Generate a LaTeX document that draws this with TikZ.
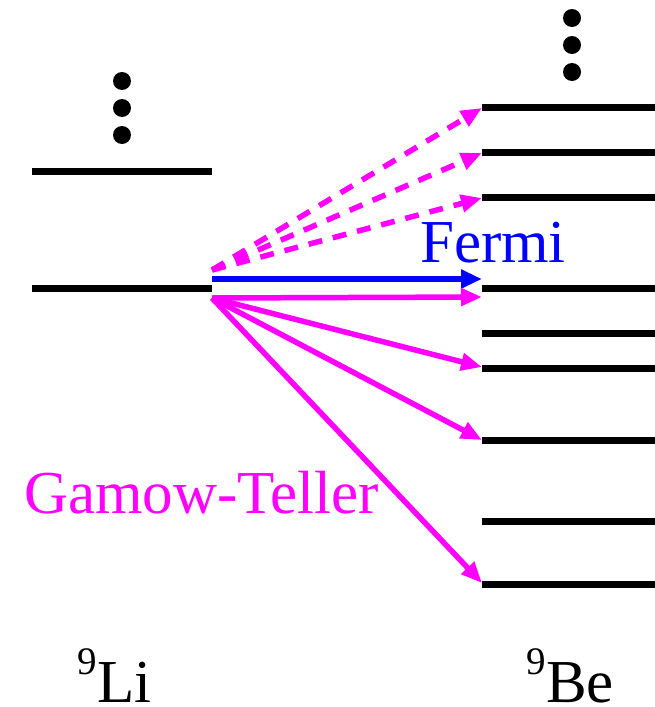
\documentclass[tikz,border=0pt]{standalone}
\usepackage{fontspec}
\setmainfont{Liberation Serif}
\usetikzlibrary{arrows.meta}
\definecolor{mag}{RGB}{255,0,255}
\definecolor{fblue}{RGB}{0,0,255}
\begin{document}
\begin{tikzpicture}[x=1pt,y=-1pt,
  level/.style={line width=7pt},
  dot/.style={fill=black,circle,inner sep=0pt,minimum size=18pt},
  trans/.style={line width=5.5pt,draw=mag,-{Triangle[length=21pt,width=17pt,fill=mag]}},
  dtrans/.style={trans,dash pattern=on 14pt off 11pt},
  ftrans/.style={line width=6pt,draw=fblue,-{Triangle[length=21pt,width=18pt,fill=fblue]}},
  big/.style={font=\fontsize{61}{61}\selectfont,inner sep=0pt},
  sup/.style={font=\fontsize{39}{39}\selectfont,inner sep=0pt}]
\useasboundingbox (0,0) rectangle (655,707);
% left levels (9Li)
\coordinate (L1a) at (32,288); \coordinate (L1b) at (212,288);
\coordinate (L2a) at (32,171); \coordinate (L2b) at (212,171);
\draw[level] (L1a) -- (L1b);
\draw[level] (L2a) -- (L2b);
\node[dot] (ld1) at (122,81) {};
\node[dot] (ld2) at (122,108) {};
\node[dot] (ld3) at (122,135) {};
% right levels (9Be)
\foreach \n/\y in {1/107,2/152,3/197,4/288,5/333,6/368,7/440,8/521,9/584}{
  \coordinate (R\n) at (482,\y);
  \draw[level] (R\n) -- (655,\y);
}
\node[dot] (rd1) at (572,18) {};
\node[dot] (rd2) at (572,45) {};
\node[dot] (rd3) at (572,72) {};
% transition origins and targets
\coordinate (oD) at (212,270);
\coordinate (oF) at (212,279);
\coordinate (oG) at (212,298);
\coordinate (tD1) at (482,108);
\coordinate (tD2) at (482,153);
\coordinate (tD3) at (482,198);
\coordinate (tF) at (482,279);
\coordinate (tG1) at (482,297);
\coordinate (tG2) at (482,367);
\coordinate (tG3) at (482,440);
\coordinate (tG4) at (482,583);
\draw[dtrans] (oD) -- (tD1);
\draw[dtrans] (oD) -- (tD2);
\draw[dtrans] (oD) -- (tD3);
\draw[ftrans] (oF) -- (tF);
\draw[trans] (oG) -- (tG1);
\draw[trans] (oG) -- (tG2);
\draw[trans] (oG) -- (tG3);
\draw[trans] (oG) -- (tG4);
% labels
\node[big,text=fblue,anchor=base west] (fermi) at (420,262) {Fermi};
\node[big,text=mag,anchor=base west] (gt) at (24,513) {Gamow-Teller};
\node[sup,anchor=base west,text depth=0pt] (li9) at (77,674) {9};
\node[big,anchor=base west,text depth=0pt] (li) at (li9.base east) [yshift=-28pt] {Li};
\node[sup,anchor=base west,text depth=0pt] (be9) at (526,674) {9};
\node[big,anchor=base west,text depth=0pt] (be) at (be9.base east) [yshift=-28pt] {Be};
\end{tikzpicture}
\end{document}
